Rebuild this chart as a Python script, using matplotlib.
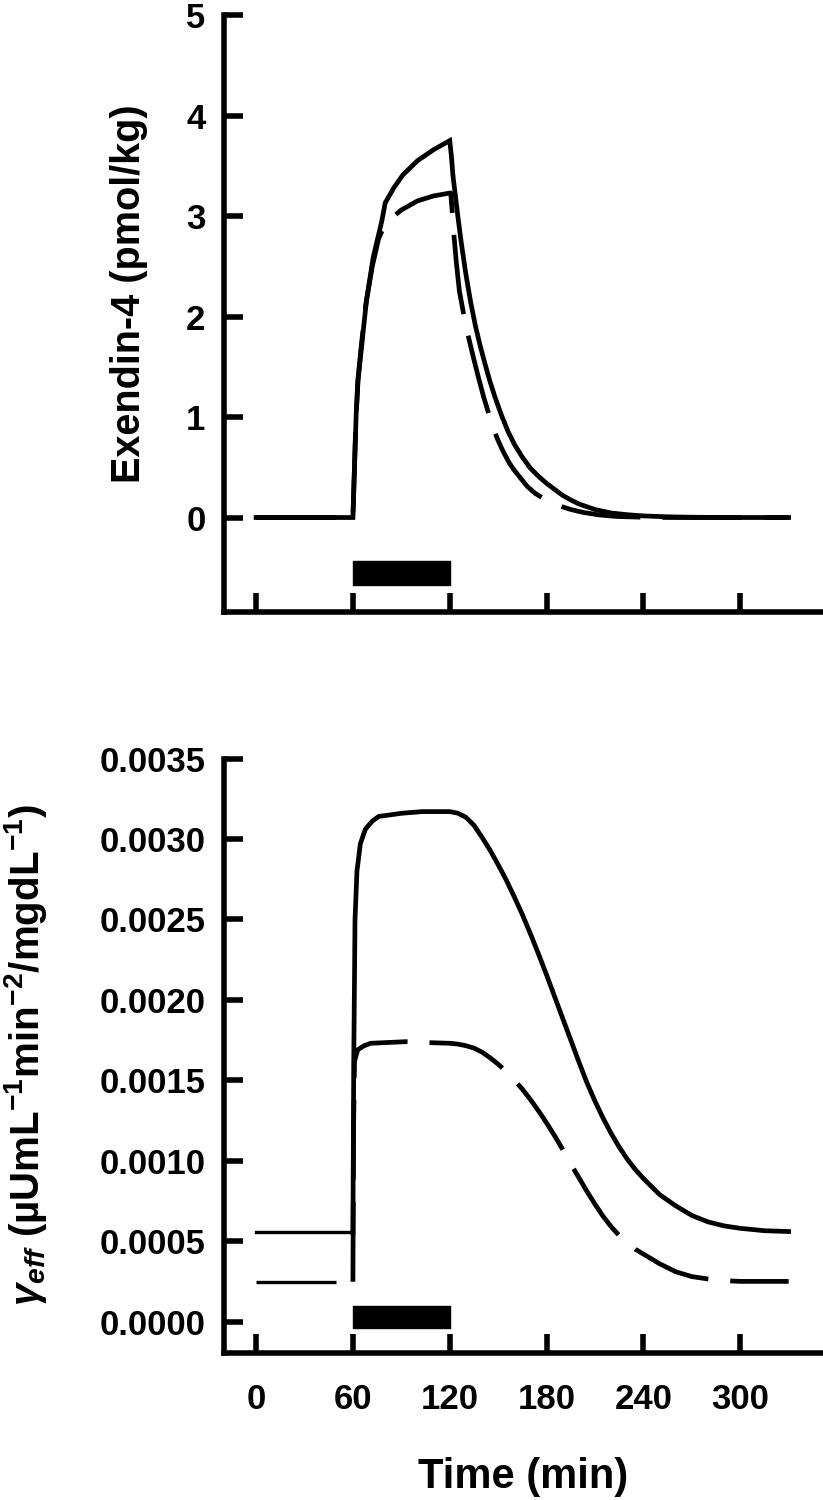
import numpy as np
import matplotlib
matplotlib.use("Agg")
import matplotlib.pyplot as plt

plt.rcParams['font.family'] = ['Liberation Sans', 'DejaVu Sans']
plt.rcParams['font.weight'] = 'bold'
plt.rcParams['mathtext.fontset'] = 'custom'
plt.rcParams['mathtext.rm'] = 'Liberation Sans:bold'
plt.rcParams['mathtext.it'] = 'Liberation Sans:italic:bold'
plt.rcParams['mathtext.bf'] = 'Liberation Sans:bold'

#exendin-4 concentration (pmol/kg), time in min
t_exe_solid = [0, 60, 62, 63.2, 65.3, 68.4, 72.6, 77.9, 80, 85.3, 91, 100, 110, 120,
               121, 122, 123.5, 125, 127, 130, 133, 136, 139, 142, 145, 148, 152, 156,
               160, 165, 170, 175, 180, 185, 190, 195, 200, 210, 220, 230, 240, 255,
               270, 290, 330]
y_exe_solid = [0, 0, 1.02, 1.37, 1.69, 2.16, 2.59, 2.95, 3.13, 3.28, 3.41, 3.55, 3.66, 3.75,
               3.6, 3.4, 3.2, 3.0, 2.75, 2.42, 2.14, 1.9, 1.7, 1.52, 1.35, 1.2, 1.02, 0.86,
               0.73, 0.6, 0.49, 0.41, 0.34, 0.28, 0.22, 0.175, 0.135, 0.08, 0.045, 0.028, 0.016, 0.007,
               0.003, 0, 0]

t_exe_dash = [0, 60, 61.8, 63, 64.8, 67.8, 72, 76, 80, 86.3, 90, 100, 110, 120.6,
              121.5, 122.7, 124, 126, 128.9, 132, 135, 138, 141, 144.4, 147, 149.6, 153,
              157, 160, 164, 168, 173, 178, 183, 189, 195, 203, 213, 224, 240, 260, 330]
y_exe_dash = [0, 0, 0.95, 1.35, 1.65, 2.1, 2.5, 2.78, 2.92, 3.01, 3.06, 3.15, 3.2, 3.23,
              3.05, 2.79, 2.55, 2.25, 2.0, 1.77, 1.57, 1.38, 1.2, 1.02, 0.89, 0.78, 0.66,
              0.54, 0.47, 0.39, 0.31, 0.24, 0.19, 0.15, 0.11, 0.08, 0.05, 0.025, 0.01, 0.003, 0, 0]

#gamma_eff (x 1e-3)
t_gam_solid = [0, 60, 60.5, 61.3, 62.5, 64.6, 67.7, 71.9, 76, 90.6, 103, 120, 125, 130,
               135, 140, 145, 150, 155, 160, 165, 170, 175, 180, 185, 190, 195, 200,
               205, 210, 215, 220, 225, 230, 235, 240, 250, 260, 270, 280, 290, 300,
               315, 330]
y_gam_solid = [0.555, 0.555, 1.6, 2.5, 2.80, 2.97, 3.06, 3.11, 3.14, 3.16, 3.17, 3.17, 3.16, 3.135,
               3.085, 3.01, 2.93, 2.84, 2.745, 2.64, 2.53, 2.41, 2.285, 2.155, 2.02, 1.885, 1.75, 1.615,
               1.485, 1.37, 1.265, 1.17, 1.085, 1.01, 0.945, 0.89, 0.79, 0.72, 0.66, 0.62, 0.595, 0.58,
               0.565, 0.56]

t_gam_dash = [0, 60, 60.4, 61, 63, 67, 71, 92.7, 104, 120, 125, 130, 135, 140, 145, 150,
              155, 160, 165, 170, 175, 180, 185, 190, 195, 200, 205, 210, 215, 220, 225,
              230, 235, 240, 250, 260, 270, 280, 290, 300, 330]
y_gam_dash = [0.248, 0.248, 1.2, 1.62, 1.69, 1.715, 1.73, 1.74, 1.735, 1.73, 1.725, 1.715, 1.70, 1.675, 1.64, 1.60,
              1.555, 1.50, 1.445, 1.38, 1.31, 1.235, 1.155, 1.07, 0.98, 0.895, 0.81, 0.73, 0.655, 0.59, 0.535,
              0.49, 0.45, 0.42, 0.36, 0.31, 0.28, 0.265, 0.255, 0.25, 0.25]

infusion = (60, 120)
x_ticks = [0, 60, 120, 180, 240, 300]
exe_ticks = [0, 1, 2, 3, 4, 5]
gam_ticks = [0, 0.0005, 0.0010, 0.0015, 0.0020, 0.0025, 0.0030, 0.0035]

W, H = 823, 1500
fig = plt.figure(figsize=(W / 100, H / 100), dpi=100)

left = 223.5 / W
ax1 = fig.add_axes([left, 1 - 611.7 / H, 1 - left, (611.7 - 15) / H])
ax2 = fig.add_axes([left, 1 - 1353 / H, 1 - left, (1353 - 758.5) / H])

lw = 3.4
lw_base = 2.4
on, off = 57.6, 15.8  # dash pattern in points

def dash(w):
    return (0, (on / w, off / w))

ax1.plot(t_exe_solid, y_exe_solid, color='black', lw=lw, solid_joinstyle='miter')
ax1.plot(t_exe_dash, y_exe_dash, color='black', lw=lw, linestyle=dash(lw))
ax1.broken_barh([(infusion[0], infusion[1] - infusion[0])], (-0.67, 0.24), color='black')

g_s = np.array(y_gam_solid) * 1e-3
g_d = np.array(y_gam_dash) * 1e-3
ax2.plot(t_gam_solid[:2], g_s[:2], color='black', lw=lw_base)
ax2.plot(t_gam_solid[1:], g_s[1:], color='black', lw=lw)
ax2.plot(t_gam_dash[:2], g_d[:2], color='black', lw=lw_base, linestyle=dash(lw_base))
ax2.plot(t_gam_dash[1:], g_d[1:], color='black', lw=lw, linestyle=dash(lw))
ax2.broken_barh([(infusion[0], infusion[1] - infusion[0])], (-0.00004, 0.00014), color='black')

for ax in (ax1, ax2):
    ax.set_xlim(-20.2, 351.3)
    ax.spines[['top', 'right']].set_visible(False)
    for s in ('left', 'bottom'):
        ax.spines[s].set_linewidth(4)
    ax.set_xticks(x_ticks)
    ax.tick_params(direction='in', length=13.5, width=4, labelsize=25)
    ax.tick_params(axis='y', pad=13)
    ax.tick_params(axis='x', pad=21.5)
    ax.patch.set_alpha(0)

ax1.set_ylim(-0.937, 5)
ax1.set_yticks(exe_ticks)
ax1.tick_params(axis='x', labelbottom=False)

ax2.set_ylim(-0.000195, 0.0035)
ax2.set_yticks(gam_ticks)
ax2.set_yticklabels([f"{v:.4f}" for v in gam_ticks])

fig.text(129 / W, 1 - 294 / H, 'Exendin-4 (pmol/kg)', rotation=90,
         ha='center', va='center', fontsize=28.5, weight='bold')
fig.text(26 / W, 1 - 1055 / H,
         r'$\gamma_{eff}$ (µUmL$^{\mathrm{-1}}$min$^{\mathrm{-2}}$/mgdL$^{\mathrm{-1}}$)',
         rotation=90, ha='center', va='center', fontsize=29, weight='bold')
fig.text(523 / W, 1 - 1477 / H, 'Time (min)', ha='center', va='center',
         fontsize=30, weight='bold')

fig.savefig("out.png", dpi=100, facecolor='white')
